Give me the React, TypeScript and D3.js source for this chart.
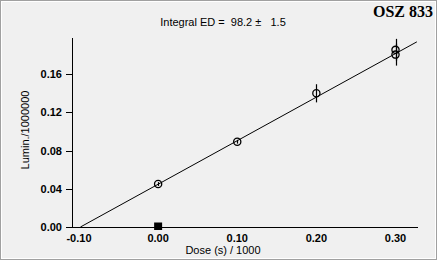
import React from "react";
import * as d3 from "d3";

const xTicks = [-0.1, 0.0, 0.1, 0.2, 0.3];
const yTicks = [0.0, 0.04, 0.08, 0.12, 0.16];
const doses = [0.0, 0.1, 0.2, 0.3, 0.3];
const lumin = [0.045, 0.0893, 0.140, 0.1855, 0.1805];
const errors = [0.002, 0.002, 0.0095, 0.0115, 0.0115];
const naturalDose = [0.0];
const naturalLumin = [0.0];
const fitED = 0.0982;
const fitSlope = 0.456;
const fitRange = [-0.0982, 0.327];
const titleText = "Integral ED =  98.2 \u00b1   1.5";
const sampleName = "OSZ 833";

export default function App() {
  const W = 437, H = 260;
  const x = d3.scaleLinear().domain([-0.1, 0.3]).range([79, 395.5]);
  const y = d3.scaleLinear().domain([0, 0.16]).range([227, 74.2]);
  const fitPts: [number, number][] = fitRange.map((d) => [d, fitSlope * (d + fitED)]);
  const line = d3.line<[number, number]>().x((d) => x(d[0])).y((d) => y(d[1]));
  const font = "Arial, 'Liberation Sans', sans-serif";
  return (
    <svg width={W} height={H} style={{ position: "absolute", left: 0, top: 0 }} fontFamily={font}>
      <rect x={0} y={0} width={W} height={H} fill="#f0f0f0" />
      <rect x={0.5} y={0.5} width={W - 1} height={H - 1} fill="none" stroke="#a0a0a0" />
      <rect x={1.5} y={1.5} width={W - 3} height={H - 3} fill="none" stroke="#ffffff" />
      <text x={433} y={17} textAnchor="end" fontFamily="'Liberation Serif', 'Times New Roman', serif" fontWeight="bold" fontSize={16}>{sampleName}</text>
      <text x={223} y={26} textAnchor="middle" fontSize={11} xmlSpace="preserve" style={{ whiteSpace: "pre" }}>{titleText}</text>
      <line x1={72.5} x2={72.5} y1={38} y2={227.5} stroke="#000" />
      <line x1={72} x2={418} y1={227.5} y2={227.5} stroke="#000" />
      {yTicks.map((t) => (
        <g key={"y" + t}>
          <line x1={66} x2={72} y1={Math.round(y(t)) + 0.5} y2={Math.round(y(t)) + 0.5} stroke="#000" />
          <text x={62} y={y(t) + 4} textAnchor="end" fontWeight="bold" fontSize={11}>{t.toFixed(2)}</text>
        </g>
      ))}
      {xTicks.map((t) => (
        <text key={"x" + t} x={x(t)} y={242} textAnchor="middle" fontWeight="bold" fontSize={11}>{t.toFixed(2)}</text>
      ))}
      <text x={223} y={254} textAnchor="middle" fontSize={11}>Dose (s) / 1000</text>
      <text transform={`translate(29,130) rotate(-90)`} textAnchor="middle" fontSize={11}>Lumin./1000000</text>
      <path d={line(fitPts) || ""} fill="none" stroke="#000" strokeWidth={1} />
      {doses.map((d, i) => (
        <g key={"p" + i}>
          <line x1={Math.round(x(d)) + 0.5} x2={Math.round(x(d)) + 0.5} y1={y(lumin[i] + errors[i])} y2={y(lumin[i] - errors[i])} stroke="#000" strokeWidth={1.2} />
          <circle cx={x(d)} cy={y(lumin[i])} r={3.6} fill="none" stroke="#000" strokeWidth={1.3} />
        </g>
      ))}
      {naturalDose.map((d, i) => (
        <rect key={"n" + i} x={x(d) - 4} y={y(naturalLumin[i]) - 4.5} width={8} height={7.5} fill="#000" />
      ))}
    </svg>
  );
}
